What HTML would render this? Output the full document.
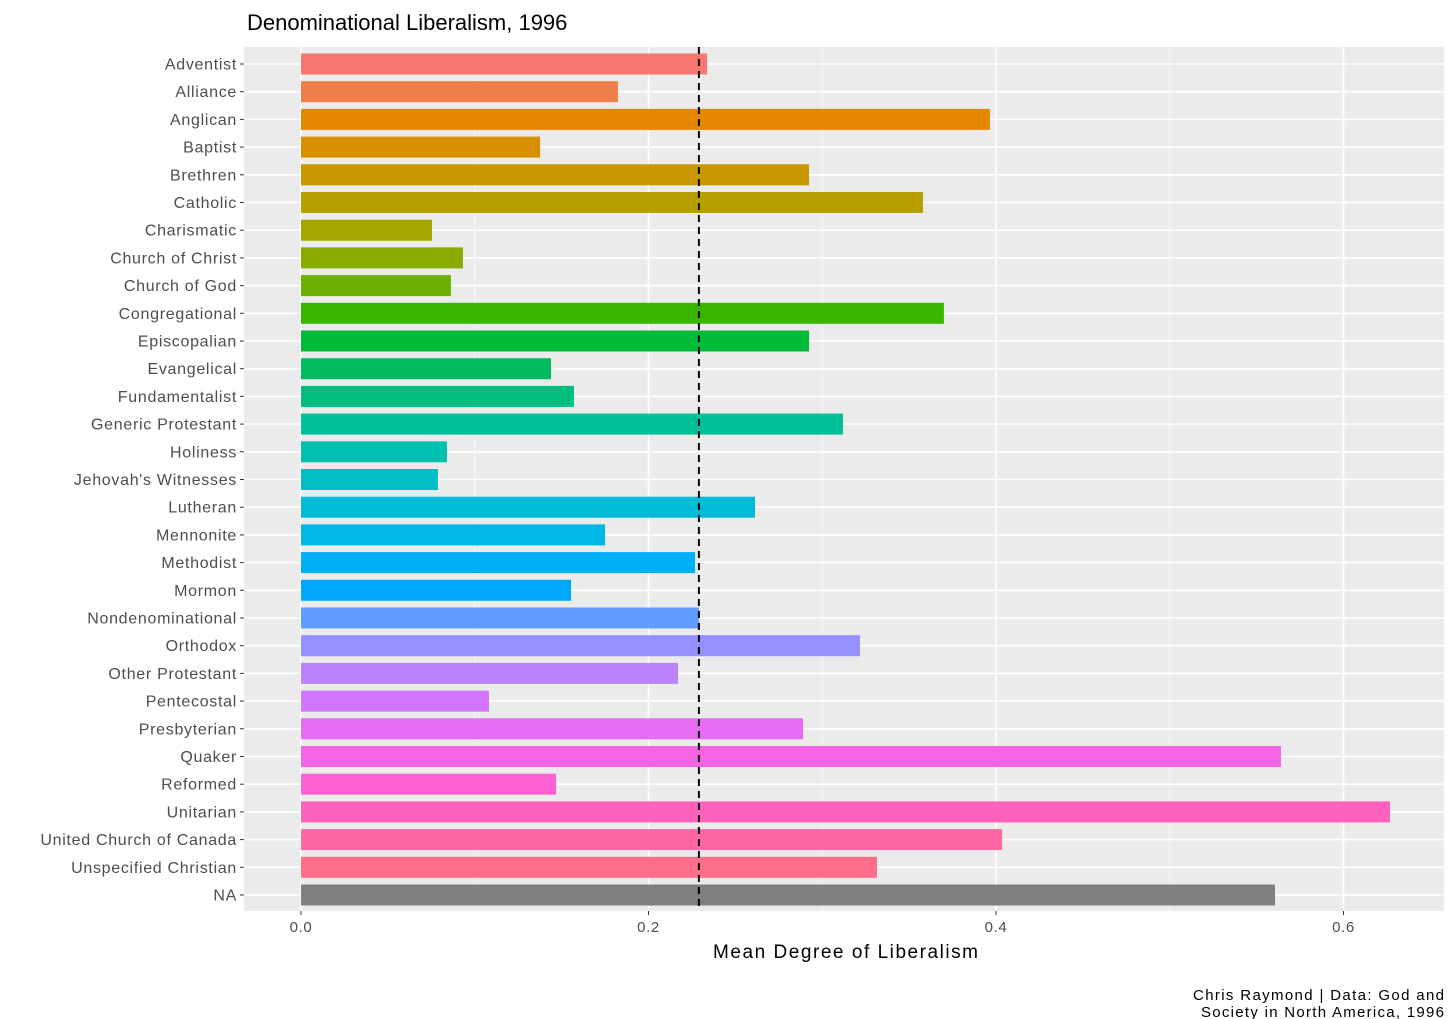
<!DOCTYPE html>
<html><head><meta charset="utf-8"><style>
html,body{margin:0;padding:0;background:#fff;}
svg{display:block;font-family:"Liberation Sans",Arial,sans-serif;}
</style></head><body>
<svg id="chart" width="1456" height="1019" viewBox="0 0 1456 1019" xmlns="http://www.w3.org/2000/svg">
<text x="247" y="30" font-size="22" fill="#000">Denominational Liberalism, 1996</text>
<rect x="244" y="47" width="1200" height="864" fill="#EBEBEB"/>
<g id="grid"></g><g id="bars"></g><g id="axes"></g>
<text x="713" y="958" font-size="19" textLength="265" lengthAdjust="spacing" fill="#000">Mean Degree of Liberalism</text>
<text font-size="15" fill="#000"><tspan x="1193" y="1000" textLength="251" lengthAdjust="spacing">Chris Raymond | Data: God and</tspan><tspan x="1201" y="1017" textLength="243" lengthAdjust="spacing">Society in North America, 1996</tspan></text>
</svg>
<script>
const categories=["Adventist","Alliance","Anglican","Baptist","Brethren","Catholic","Charismatic","Church of Christ","Church of God","Congregational","Episcopalian","Evangelical","Fundamentalist","Generic Protestant","Holiness","Jehovah's Witnesses","Lutheran","Mennonite","Methodist","Mormon","Nondenominational","Orthodox","Other Protestant","Pentecostal","Presbyterian","Quaker","Reformed","Unitarian","United Church of Canada","Unspecified Christian","NA"];
const values=[0.2337,0.1824,0.3965,0.1376,0.2924,0.358,0.0754,0.0932,0.0863,0.370,0.2924,0.1439,0.1571,0.3119,0.0840,0.0788,0.2613,0.175,0.2268,0.1554,0.229,0.3217,0.217,0.1082,0.2889,0.564,0.1468,0.6268,0.4035,0.3315,0.5606];
const meanValue=0.229;
const xTicks=[0,0.2,0.4,0.6];
const xTickLabels=["0.0","0.2","0.4","0.6"];
const xMinor=[0.1,0.3,0.5];
const NS="http://www.w3.org/2000/svg";
const X=v=>301+v*1737.5;
const step=(895-64)/(categories.length-1);
const Y=i=>64+i*step;
function mk(t,a,p){const e=document.createElementNS(NS,t);for(const k in a)e.setAttribute(k,a[k]);p.appendChild(e);return e;}
function hcl(h){const L=65,C=100,r=h*Math.PI/180;const u=C*Math.cos(r),v=C*Math.sin(r);
const Xn=95.047,Yn=100,Zn=108.883,d=Xn+15*Yn+3*Zn,un=4*Xn/d,vn=9*Yn/d;
const Yv=Yn*Math.pow((L+16)/116,3);const up=u/(13*L)+un,vp=v/(13*L)+vn;
const Xv=9*Yv*up/(4*vp),Zv=-Xv/3-5*Yv+3*Yv/vp;const x=Xv/100,y=Yv/100,z=Zv/100;
const lin=[3.2406*x-1.5372*y-0.4986*z,-0.9689*x+1.8758*y+0.0415*z,0.0557*x-0.2040*y+1.0570*z];
return "rgb("+lin.map(c=>{c=c<=0.0031308?12.92*c:1.055*Math.pow(c,1/2.4)-0.055;return Math.round(Math.max(0,Math.min(1,c))*255);}).join(",")+")";}
const grid=document.getElementById('grid'),bars=document.getElementById('bars'),axes=document.getElementById('axes');
xMinor.forEach(v=>{const l=mk('line',{x1:X(v),x2:X(v),y1:47,y2:911,stroke:'#fff','stroke-width':0.8,opacity:0.6},grid);

});
xTicks.forEach((v,i)=>{const l=mk('line',{x1:X(v),x2:X(v),y1:47,y2:911,stroke:'#fff','stroke-width':1.6},grid);


const tk=mk('line',{x1:X(v),x2:X(v),y1:911,y2:915,stroke:'#333','stroke-width':1},axes);


const t=mk('text',{x:X(v),y:932,'font-size':15,'letter-spacing':0.6,'text-anchor':'middle',fill:'#4d4d4d'},axes);t.textContent=xTickLabels[i];

});
const n=categories.length-1;
categories.forEach((c,i)=>{const y=Y(i);
const g=mk('line',{x1:244,x2:1444,y1:y,y2:y,stroke:'#fff','stroke-width':1.6},grid);


const col=c==="NA"?"#7F7F7F":hcl(15+360*i/n);
const b=mk('rect',{x:X(0),y:y-10.5,width:X(values[i])-X(0),height:21,fill:col},bars);


const tk=mk('line',{x1:240,x2:244,y1:y,y2:y,stroke:'#333','stroke-width':1},axes);


const t=mk('text',{x:237,y:y+5.5,'font-size':16,'letter-spacing':0.7,'text-anchor':'end',fill:'#4d4d4d'},axes);t.textContent=c;

});
const m=mk('line',{x1:X(meanValue),x2:X(meanValue),y1:47,y2:911,stroke:'#000','stroke-width':2,'stroke-dasharray':'7,5'},bars);


</script>
</body></html>
